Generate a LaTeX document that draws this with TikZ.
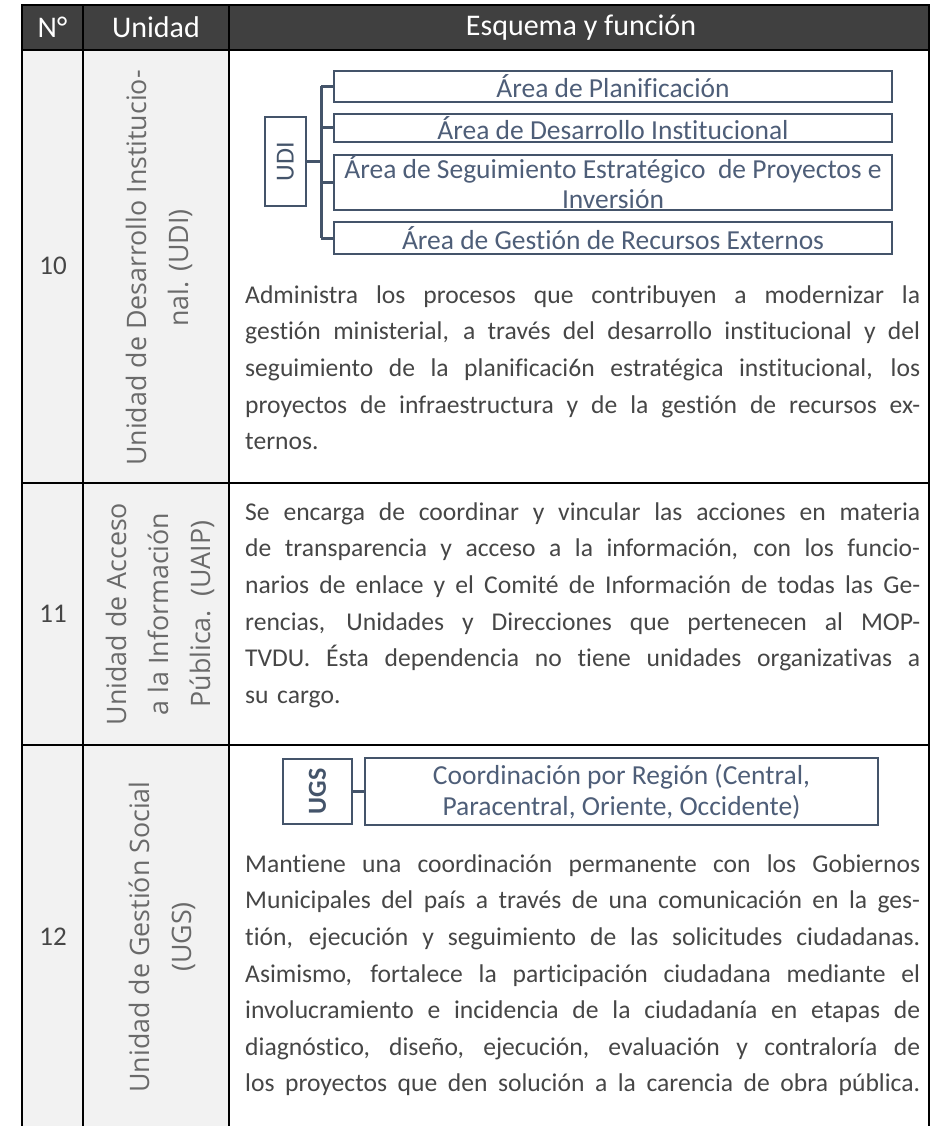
\documentclass[tikz,border=0pt]{standalone}
\usepackage{fontspec}
\setmainfont{Carlito}[Ligatures=NoCommon]
\newfontfamily\rotfont{Open Sans}
\definecolor{hdrgray}{HTML}{404040}
\definecolor{cellgray}{HTML}{F2F2F2}
\definecolor{bodygray}{HTML}{464646}
\definecolor{rotgray}{HTML}{6A6A6A}
\definecolor{boxline}{HTML}{44546A}
\definecolor{boxtext}{HTML}{4E5E78}
% one justified line of body text
\newcommand{\jline}[1]{\makebox[675pt][s]{\spaceskip=0.226em plus 3em minus 0.05em\relax\strut #1}\\}
\begin{document}
\begin{tikzpicture}[x=1pt,y=-1pt,
    tabline/.style={line width=2pt},
    hdrtext/.style={text=white,font=\fontsize{30}{32}\selectfont},
    numtext/.style={text=bodygray,font=\fontsize{27}{30}\selectfont},
    unittext/.style={rotate=90,align=center,text=rotgray,font=\rotfont\fontsize{26.8}{42}\selectfont},
    bodytext/.style={anchor=north west,inner sep=0pt,text width=675pt,align=left,text=bodygray,font=\fontsize{25.6}{36.6}\selectfont},
    areabox/.style={draw=boxline,line width=2.4pt,inner sep=0pt,minimum width=558pt,align=center,text=boxtext,font=\fontsize{27.5}{30}\selectfont},
    headbox/.style={draw=boxline,line width=2.4pt,inner sep=0pt,text=boxline,font=\fontsize{26}{28}\selectfont},
    conn/.style={draw=boxline,line width=3pt}]
    \useasboundingbox (0,0) rectangle (938,1126);
    % fills
    \fill[hdrgray] (22,5) rectangle (929,50);
    \fill[cellgray] (22,50) rectangle (229,1130);
    % table lines
    \draw[tabline] (22,1130) -- (22,5) -- (929,5) -- (929,1130);
    \draw[tabline] (83,5) -- (83,1130);
    \draw[tabline] (229,5) -- (229,1130);
    \draw[tabline] (22,50) -- (929,50);
    \draw[tabline] (22,483) -- (929,483);
    \draw[tabline] (22,745) -- (929,745);
    % header
    \node[hdrtext] (hdrnum) at (52.5,27.5) {N°};
    \node[hdrtext] (hdrunit) at (156,27.5) {Unidad};
    \node[hdrtext] (hdrfun) at (581,27.5) {Esquema y función};
    % numbers
    \node[numtext] (num10) at (53,266) {10};
    \node[numtext] (num11) at (53,614) {11};
    \node[numtext] (num12) at (53,937) {12};
    % units
    \node[unittext] (unit10) at (159,268) {Unidad de Desarrollo Institucio-\\nal. (UDI)};
    \node[unittext] (unit11) at (160,614) {Unidad de Acceso\\a la Información\\Pública.\ \ (UAIP)};
    \node[unittext] (unit12) at (162,937) {Unidad de Gestión Social\\(UGS)};
    % UDI scheme
    \node[headbox,minimum width=41pt,minimum height=89pt] (udi) at (285.5,161.5) {\rotatebox{90}{UDI}};
    \node[areabox,minimum height=31pt] (a1) at (613,86.5) {Área de Planificación};
    \node[areabox,minimum height=28pt] (a2) at (613,128) {Área de Desarrollo Institucional};
    \node[areabox,minimum height=55pt] (a3) at (613,182.5) {Área de Seguimiento Estratégico\ \ de Proyectos e\\Inversión};
    \node[areabox,minimum height=32pt] (a4) at (613,238) {Área de Gestión de Recursos Externos};
    \coordinate (trunk) at (321,0);
    \draw[conn] (udi.east) -- (udi.east -| trunk);
    \draw[conn] (a1.west -| trunk) -- (a4.west -| trunk);
    \foreach \i in {1,...,4}
        \draw[conn] (a\i.west -| trunk) -- (a\i.west);
    % UGS scheme
    \node[headbox,minimum width=69pt,minimum height=65pt,font=\bfseries\fontsize{26}{28}\selectfont] (ugs) at (317.5,791.5) {\rotatebox{90}{UGS}};
    \node[areabox,minimum width=513pt,minimum height=67pt,font=\fontsize{27.5}{31}\selectfont] (ugsreg) at (621.5,791.5) {Coordinación por Región (Central,\\Paracentral, Oriente, Occidente)};
    \draw[conn] (ugs.east) -- (ugsreg.west);
    % functions
    \node[bodytext] (fun10) at (245,277.4) {%
        \jline{Administra los procesos que contribuyen a modernizar la}
        \jline{gestión ministerial, a través del desarrollo institucional y del}
        \jline{seguimiento de la planificaci6n estratégica institucional, los}
        \jline{proyectos de infraestructura y de la gestión de recursos ex-}
        \strut ternos.};
    \node[bodytext] (fun11) at (245,494.4) {%
        \jline{Se encarga de coordinar y vincular las acciones en materia}
        \jline{de transparencia y acceso a la información, con los funcio-}
        \jline{narios de enlace y el Comité de Información de todas las Ge-}
        \jline{rencias, Unidades y Direcciones que pertenecen al MOP-}
        \jline{TVDU. Ésta dependencia no tiene unidades organizativas a}
        \strut su cargo.};
    \node[bodytext] (fun12) at (245,846.4) {%
        \jline{Mantiene una coordinación permanente con los Gobiernos}
        \jline{Municipales del país a través de una comunicación en la ges-}
        \jline{tión, ejecución y seguimiento de las solicitudes ciudadanas.}
        \jline{Asimismo, fortalece la participación ciudadana mediante el}
        \jline{involucramiento e incidencia de la ciudadanía en etapas de}
        \jline{diagnóstico, diseño, ejecución, evaluación y contraloría de}
        \jline{los proyectos que den solución a la carencia de obra pública.}
        };
\end{tikzpicture}
\end{document}
